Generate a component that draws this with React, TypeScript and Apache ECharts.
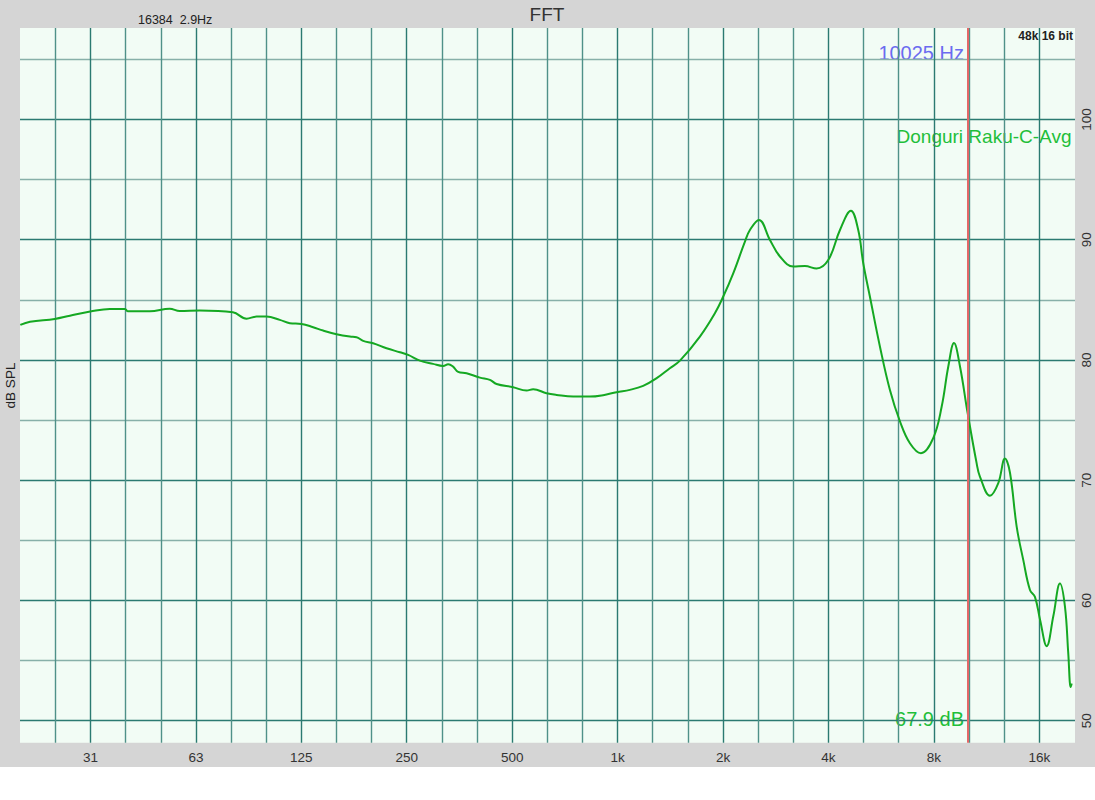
import React, { useEffect, useRef } from 'react';
import * as echarts from 'echarts';

// Frequency response (Hz)
const freqs = [
  19.7, 21.0, 24.7, 27.3, 31.2, 35.5, 39.2, 39.9, 46.2, 52.6, 56.2, 64.1, 79.7, 87.2, 93.1, 99.4,
  108.5, 115.9, 125.2, 135.1, 144.3, 157.6, 172.0, 179.7, 187.7, 200.4, 218.9, 239.0, 252.3,
  272.5, 297.3, 317.6, 328.2, 339.1, 350.6, 370.4, 404.4, 431.8, 451.3, 503.2, 549.7, 574.0,
  626.8, 669.4, 746.9, 833.4, 909.4, 993.1, 1084, 1183, 1293, 1410, 1507, 1718, 1896, 2003,
  2139, 2310, 2387, 2533, 2723, 2908, 3174, 3427, 3700, 3995, 4315, 4637, 4866, 5029, 5253,
  5613, 5993, 6400, 6835, 7350, 7967, 8421, 8797, 9132, 9500, 9991, 10600, 10830, 11570,
  12220, 12770, 13200, 13790, 14400, 15050, 15550, 16080, 16800, 17550, 18330, 18940, 19360,
  19670, 19800,
];
// Level (dB SPL) at each frequency
const levels = [
  82.91, 83.18, 83.41, 83.68, 84.02, 84.24, 84.24, 84.05, 84.05, 84.26, 84.07, 84.1, 83.96,
  83.43, 83.6, 83.6, 83.33, 83.05, 82.99, 82.72, 82.44, 82.14, 81.94, 81.89, 81.58, 81.39,
  80.97, 80.64, 80.42, 79.94, 79.67, 79.5, 79.64, 79.44, 79.0, 78.89, 78.53, 78.34, 78.0,
  77.73, 77.45, 77.56, 77.23, 77.09, 76.95, 76.95, 77.07, 77.32, 77.51, 77.84, 78.48, 79.31,
  79.94, 81.94, 83.88, 85.27, 87.2, 89.84, 90.8, 91.64, 89.98, 88.6, 87.76, 87.8, 87.6, 88.3,
  90.8, 92.4, 90.8, 88.04, 85.27, 81.1, 77.5, 74.9, 73.07, 72.24, 73.5, 76.1, 79.45, 81.4,
  79.45, 75.57, 71.4, 70.3, 68.7, 69.75, 71.8, 70.6, 66.14, 63.37, 60.87, 60.3, 58.4, 56.2,
  58.7, 61.4, 59.5, 55.6, 52.8, 53.1,
];

// 1/3-octave grid frequencies
const gridFreqs = [
  24.8, 31.25, 39.37, 49.61, 62.5, 78.75, 99.21, 125, 157.5, 198.4, 250, 315, 396.9, 500,
  630, 793.7, 1000, 1260, 1587, 2000, 2520, 3175, 4000, 5040, 6350, 8000, 10079, 12699, 16000,
];
const octaveFreqs = [31.25, 62.5, 125, 250, 500, 1000, 2000, 4000, 8000, 16000];
const octaveLabels = ['31', '63', '125', '250', '500', '1k', '2k', '4k', '8k', '16k'];
const dbGrid = [50, 55, 60, 65, 70, 75, 80, 85, 90, 95, 100, 105];
const dbLabels = [50, 60, 70, 80, 90, 100];
const cursorFreq = 10025;
const cursorLevel = '67.9 dB';
const traceName = 'Donguri Raku-C-Avg';

const FONT = '"Liberation Sans", Arial, sans-serif';

export default function App() {
  const ref = useRef<HTMLDivElement>(null);
  useEffect(() => {
    const chart = echarts.init(ref.current!, null, { renderer: 'svg' });
    const fmtX = (v: number) => {
      let best = 0;
      let bd = Infinity;
      octaveFreqs.forEach((f, i) => {
        const d = Math.abs(Math.log(f) - Math.log(v));
        if (d < bd) { bd = d; best = i; }
      });
      return octaveLabels[best];
    };
    const majorC = '#2b7a71';
    const minorV = '#4f9188';
    const minorH = '#88b0a9';
    chart.setOption({
      animation: false,
      backgroundColor: '#d5d5d5',
      textStyle: { fontFamily: FONT },
      grid: {
        left: 20, right: 20, top: 28, bottom: 24.3,
        show: true, backgroundColor: '#f2fcf5', borderWidth: 0,
      },
      xAxis: {
        type: 'log', logBase: 2, min: 19.66, max: 20236,
        axisLine: { show: false },
        axisTick: { show: false, customValues: gridFreqs },
        axisLabel: {
          customValues: octaveFreqs, formatter: (v: number) => fmtX(v),
          color: '#333', fontSize: 13.5, margin: 8, fontFamily: FONT,
        },
        splitLine: { show: true, lineStyle: { color: [minorV, majorC, minorV], width: 1.4 } },
      },
      yAxis: {
        type: 'value', position: 'right', min: 48.17, max: 107.6,
        axisLine: { show: false },
        axisTick: { show: false, customValues: dbGrid },
        axisLabel: {
          customValues: dbLabels, rotate: 90, color: '#333', fontSize: 13.5, margin: 4,
          fontFamily: FONT,
        },
        splitLine: { show: true, lineStyle: { color: [majorC, minorH], width: 1.4 } },
      },
      series: [
        {
          type: 'line',
          data: freqs.map((f, i) => [f, levels[i]]),
          showSymbol: false,
          symbol: 'none',
          smooth: 0.4,
          lineStyle: { color: '#15a822', width: 2 },
          markLine: {
            silent: true,
            symbol: 'none',
            label: { show: false },
            lineStyle: { color: '#e36868', width: 2, type: 'solid' },
            data: [{ xAxis: cursorFreq }],
          },
        },
      ],
      graphic: [
        { type: 'text', x: 547, y: 14.5, style: { text: 'FFT', fill: '#333', fontSize: 19, fontFamily: FONT, align: 'center', verticalAlign: 'middle' } },
        { type: 'text', x: 138, y: 19.5, style: { text: '16384  2.9Hz', fill: '#222', fontSize: 12.5, fontFamily: FONT, align: 'left', verticalAlign: 'middle' } },
        { type: 'text', x: 1073, y: 36, style: { text: '48k 16 bit', fill: '#222', fontSize: 12, fontWeight: 'bold', fontFamily: FONT, align: 'right', verticalAlign: 'middle' } },
        { type: 'text', x: 964, y: 52.5, style: { text: cursorFreq + ' Hz', fill: '#6b6bf0', fontSize: 20, fontFamily: FONT, align: 'right', verticalAlign: 'middle' } },
        { type: 'text', x: 1071.5, y: 136, style: { text: traceName, fill: '#1fbf3a', fontSize: 19, fontFamily: FONT, align: 'right', verticalAlign: 'middle' } },
        { type: 'text', x: 964, y: 719, style: { text: cursorLevel, fill: '#1fbf3a', fontSize: 20, fontFamily: FONT, align: 'right', verticalAlign: 'middle' } },
        { type: 'text', x: 10.5, y: 385.5, rotation: Math.PI / 2, style: { text: 'dB SPL', fill: '#222', fontSize: 13.5, fontFamily: FONT, align: 'center', verticalAlign: 'middle' } },
      ],
    });
    return () => chart.dispose();
  }, []);
  return (
    <div
      ref={ref}
      style={{ position: 'absolute', left: 0, top: 0, width: 1095, height: 767 }}
    />
  );
}
